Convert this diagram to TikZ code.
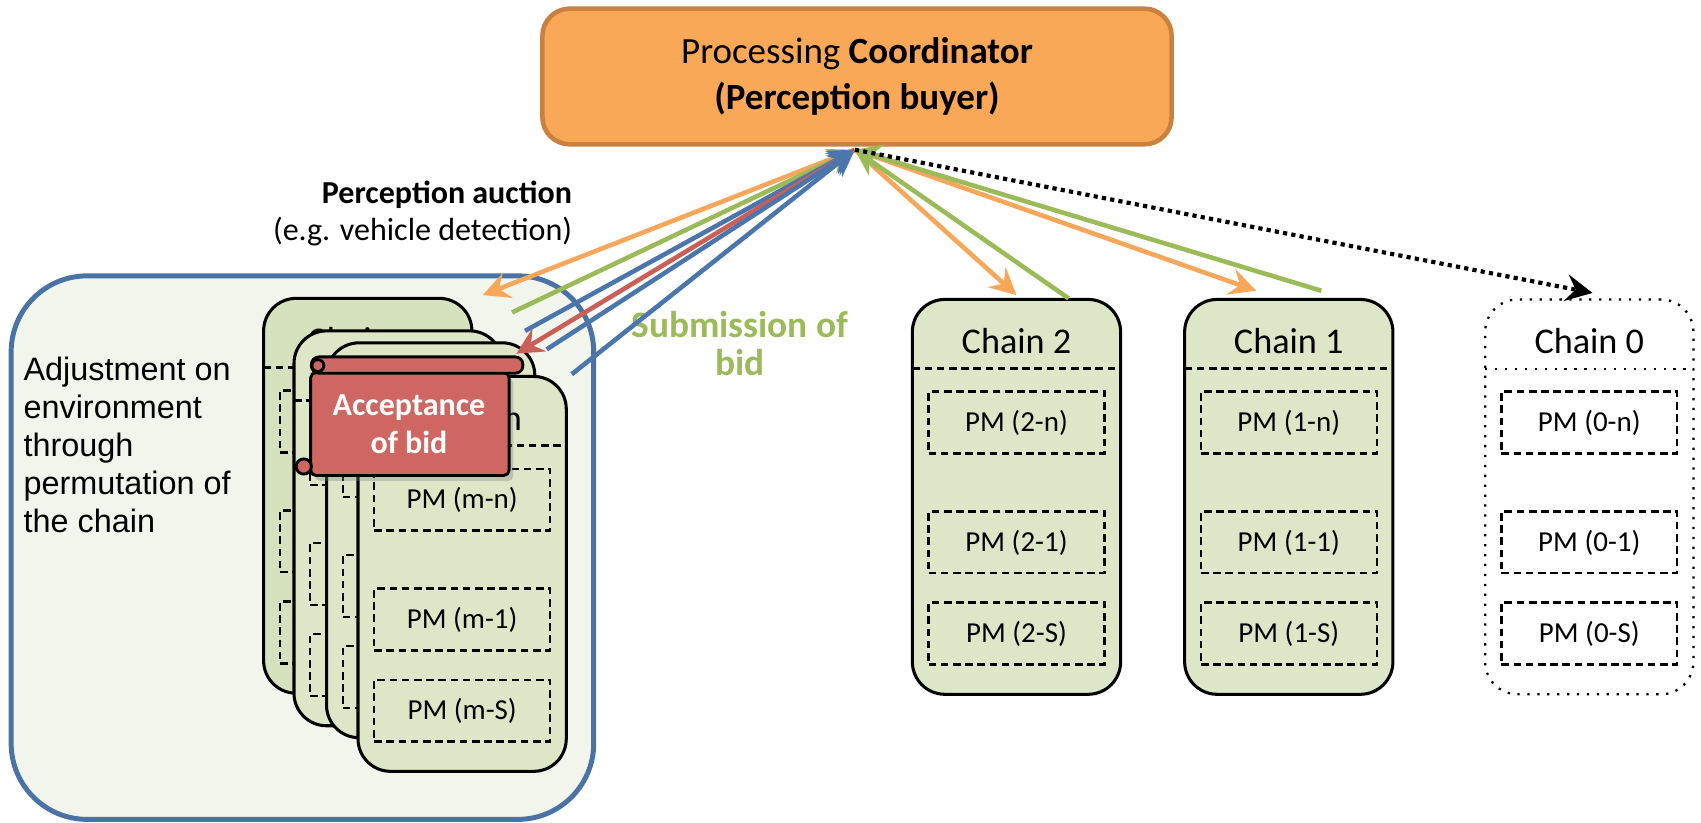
\documentclass[tikz,border=0pt]{standalone}
\usepackage{fontspec}
\setmainfont{Carlito}
\newfontfamily\arialfont{Liberation Sans}
\usepackage{tikz}
\usetikzlibrary{shapes}
\usetikzlibrary{arrows.meta}
\usetikzlibrary{positioning}
\usetikzlibrary{calc}
\usetikzlibrary{shadows}

\definecolor{coordfill}{HTML}{F9A857}
\definecolor{coordline}{HTML}{C9813F}
\definecolor{cardfill}{HTML}{DEE6C8}
\definecolor{cardback}{HTML}{D6E1BD}
\definecolor{groupfill}{HTML}{F2F5EB}
\definecolor{groupline}{HTML}{4A73A5}
\definecolor{bidgreen}{HTML}{9BBB59}
\definecolor{askorange}{HTML}{F8A65A}
\definecolor{bidblue}{HTML}{4A76AC}
\definecolor{okred}{HTML}{CB5F58}
\definecolor{scrollfill}{HTML}{CE6761}

\tikzset{
        chainbox/.style={draw, line width=0.8pt, fill=cardfill, rounded corners=0.3cm,
                minimum width=1.92cm, minimum height=3.64cm, inner sep=0pt, outer sep=0pt},
        backbox/.style={chainbox, fill=cardback},
        openbox/.style={chainbox, fill=white, line width=0.6pt, dotted},
        chainbox head/.style={line width=0.75pt, dash pattern=on 2pt off 1.2pt},
        openbox head/.style={line width=0.6pt, dotted},
        chainlabel/.style={anchor=base, inner sep=0pt, font=\fontsize{9.5}{11}\selectfont},
        pmbox/.style={draw, line width=0.6pt, dash pattern=on 2pt off 1.2pt,
                minimum width=1.62cm, minimum height=0.57cm, inner sep=0pt,
                font=\fontsize{7.6}{9}\selectfont},
        tip/.style={-{Stealth[length=7pt, width=7pt, inset=2.5pt]}, line width=1.2pt},
        scroll/.style={draw, line width=0.75pt, fill=scrollfill}
}

\newcommand{\chaincard}[6]{%
        \node[#5, anchor=north west] (#1) at (#2,#3) {};
        \draw[#6] ($(#1.north west)+(0,-0.64)$) -- ($(#1.north east)+(0,-0.64)$);
        \node[chainlabel] (#1-t) at ($(#1.north)+(0,-0.50)$) {Chain #4};
        \node[pmbox] (#1-n) at ($(#1.north)+(0,-1.135)$) {PM (#4-n)};
        \node[pmbox] (#1-1) at ($(#1.north)+(0,-2.24)$) {PM (#4-1)};
        \node[pmbox] (#1-s) at ($(#1.north)+(0,-3.08)$) {PM (#4-S)};
}

\begin{document}
\begin{tikzpicture}
        \useasboundingbox (0,0) rectangle (15.68,-7.58);

        \node[draw=coordline, line width=1.2pt, fill=coordfill, rounded corners=0.25cm,
                minimum width=5.8cm, minimum height=1.25cm, align=center,
                font=\fontsize{9.7}{12.2}\selectfont] (coord) at (7.90,-0.705)
                {Processing \textbf{Coordinator}\\\textbf{(Perception buyer)}};
        \coordinate (hub) at (7.88,-1.38);

        \node[anchor=east, align=right, inner sep=0pt, font=\fontsize{8.4}{9.7}\selectfont] (auction) at (5.28,-1.97)
                {\textbf{Perception auction}\\(e.g. vehicle detection)};

        \node[draw=groupline, line width=1.3pt, fill=groupfill, rounded corners=0.7cm,
                minimum width=5.37cm, minimum height=5.01cm, inner sep=0pt, anchor=north west] (group) at (0.08,-2.52) {};
        \node[anchor=west, align=left, inner sep=0pt, font=\arialfont\fontsize{8.5}{10}\selectfont] (adjust) at (0.21,-4.10)
                {Adjustment on\\environment\\through\\permutation of\\the chain};

        \chaincard{cardA}{2.43}{-2.75}{m}{backbox}{chainbox head}
        \chaincard{cardB}{2.71}{-3.05}{m}{chainbox}{chainbox head}
        \chaincard{cardC}{3.01}{-3.16}{m}{chainbox}{chainbox head}
        \chaincard{cardD}{3.30}{-3.47}{m}{chainbox}{chainbox head}

        \node[scroll, rounded corners=0.05cm, minimum width=1.83cm, minimum height=0.95cm, inner sep=0pt,
                anchor=north west, drop shadow={opacity=0.35, shadow xshift=0.04cm, shadow yshift=-0.05cm}] (scroll) at (2.85,-3.42) {};
        \draw[scroll, rounded corners=0.07cm] (2.87,-3.29) rectangle (4.82,-3.44);
        \draw[scroll] (2.93,-3.37) circle (0.055);
        \draw[scroll] (2.80,-4.30) circle (0.07);
        \node[align=center, text=white, font=\bfseries\fontsize{8.4}{10.2}\selectfont] (accept) at (3.77,-3.91) {Acceptance\\of bid};

        \chaincard{chain2}{8.41}{-2.76}{2}{chainbox}{chainbox head}
        \chaincard{chain1}{10.92}{-2.76}{1}{chainbox}{chainbox head}
        \chaincard{chain0}{13.69}{-2.76}{0}{openbox}{openbox head}

        \node[align=center, text=bidgreen, font=\bfseries\fontsize{9.8}{10}\selectfont] (submit) at (6.82,-3.17) {Submission of\\bid};

        \coordinate (stackask) at (4.45,-2.72);
        \coordinate (stackbid) at (4.72,-2.88);
        \coordinate (bidB) at (4.84,-3.05);
        \coordinate (stackok) at (4.76,-3.26);
        \coordinate (bidC) at (5.04,-3.22);
        \coordinate (bidD) at (5.27,-3.45);
        \coordinate (c2ask) at ($(chain2.north)+(0,0.04)$);
        \coordinate (c2bid) at ($(chain2.north)+(0.48,0.01)$);
        \coordinate (c1ask) at ($(chain1.north)+(-0.30,0.08)$);
        \coordinate (c1bid) at ($(chain1.north)+(0.30,0.08)$);
        \coordinate (c0ask) at ($(chain0.north)+(0.03,0.06)$);

        \draw[tip, askorange] (hub) -- (stackask);
        \draw[tip, bidgreen] (stackbid) -- (hub);
        \draw[tip, bidblue] (bidB) -- (hub);
        \draw[tip, okred] (hub) -- (stackok);
        \draw[tip, bidblue] (bidC) -- (hub);
        \draw[tip, bidblue] (bidD) -- (hub);

        \draw[tip, askorange] (hub) -- (c2ask);
        \draw[tip, bidgreen] (c2bid) -- (hub);
        \draw[tip, askorange] (hub) -- (c1ask);
        \draw[tip, bidgreen] (c1bid) -- (hub);
        \draw[tip, black, line width=1.1pt, dash pattern=on 1.1pt off 1.1pt] (hub) -- (c0ask);
\end{tikzpicture}
\end{document}
